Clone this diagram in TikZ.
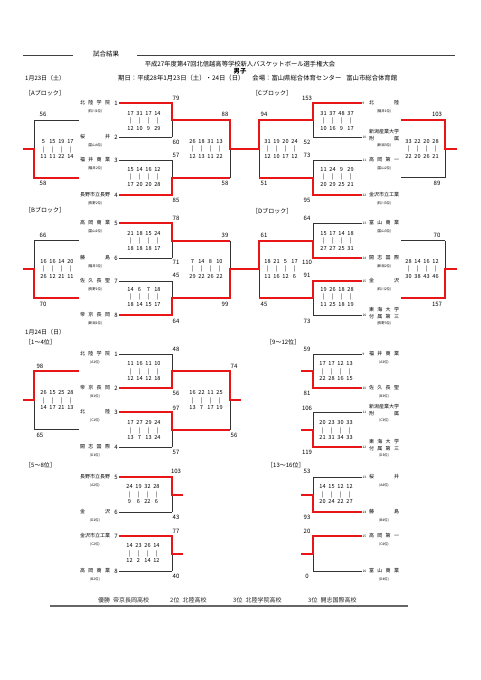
\documentclass[tikz,border=0pt]{standalone}
\usepackage{fontspec}
\setmainfont{Noto Sans CJK JP}
\usetikzlibrary{calc}

\definecolor{winred}{RGB}{232,22,22}

% team names are spread over a fixed width
\newcommand{\tname}[1]{\makebox[30pt][s]{#1}}
% quarter scores: top row, bars, bottom row
\newcommand{\qrow}[4]{\makebox[9pt]{#1}\makebox[9pt]{#2}\makebox[9pt]{#3}\makebox[9pt]{#4}}
\newcommand{\qtab}[8]{\qrow{#1}{#2}{#3}{#4}\\\qrow{|}{|}{|}{|}\\\qrow{#5}{#6}{#7}{#8}}

% team with name on the left of the bracket
\newcommand{\teamL}[5]{%
  \node[teamname] (#1) at (95,#2) {#4};
  \node[teamno, anchor=east] (#1n) at (118,#2) {#3};
  \node[teamsub] (#1s) at (95,{#2+8}) {#5};
}
% team with name on the right of the bracket
\newcommand{\teamR}[5]{%
  \node[teamnosmall, anchor=west] (#1n) at (362.5,#2) {#3};
  \node[teamname] (#1) at (384,#2) {#4};
  \node[teamsub] (#1s) at (384,{#2+8}) {#5};
}
\newcommand{\teamRR}[5]{%
  \node[teamnosmall, anchor=west] (#1n) at (362.5,#2) {#3};
  \node[teamname] (#1) at (384,{#2-1.5}) {#4};
  \node[teamsub] (#1s) at (384,{#2+8.5}) {#5};
}
% one match: name, x start, x vertical, x out, y top, y bottom, top style, bottom style, winner (t/b)
\newcommand{\bracket}[9]{%
  \coordinate (#1-t) at (#2,#5);
  \coordinate (#1-tv) at (#3,#5);
  \coordinate (#1-b) at (#2,#6);
  \coordinate (#1-bv) at (#3,#6);
  \coordinate (#1-m) at (#3,{(#5+#6)/2});
  \coordinate (#1-o) at (#4,{(#5+#6)/2});
  \draw[lose] (#1-tv) -- (#1-bv);
  \draw[#7] (#1-t) -- (#1-tv);
  \draw[#8] (#1-b) -- (#1-bv);
  \draw[win] (#1-#9) -- (#1-#9v) -- (#1-m) -- (#1-o);
}

\begin{document}
\begin{tikzpicture}[x=1pt, y=-1pt,
        lose/.style={draw=black!80, line width=0.8pt},
        win/.style={draw=winred, line width=2pt},
        rule/.style={draw=black!75, line width=0.7pt},
        teamname/.style={font=\fontsize{5}{7}\selectfont, inner sep=0pt, align=center},
        teamno/.style={font=\fontsize{6}{7}\selectfont, inner sep=0pt},
        teamnosmall/.style={font=\fontsize{3.2}{4}\selectfont, inner sep=0pt},
        teamsub/.style={font=\fontsize{3.4}{4}\selectfont, inner sep=0pt},
        total/.style={font=\fontsize{6}{7}\selectfont, inner sep=0pt},
        quarters/.style={font=\fontsize{5.6}{7.8}\selectfont, inner sep=0pt, align=center},
        blockhead/.style={font=\fontsize{6}{7}\selectfont, inner sep=0pt, anchor=west},
        headline/.style={font=\fontsize{6.3}{7}\selectfont, inner sep=0pt},
        footer/.style={font=\fontsize{6}{7}\selectfont, inner sep=0pt, anchor=west, text=black!85}
    ]
    \useasboundingbox[fill=white] (0,0) rectangle (481,680);

    % heading
    \node[headline, font=\fontsize{6.5}{7}\selectfont] (kekka) at (106,54) {試合結果};
    \draw[rule] (23,55) -- (73,55);
    \draw[rule] (137,55) -- (455,55);
    \node[headline] (title) at (240,64) {平成27年度第47回北信越高等学校新人バスケットボール選手権大会};
    \node[headline, font=\fontsize{6.3}{7}\selectfont\bfseries] (danshi) at (240,71.5) {男子};
    \node[blockhead] (day1) at (25,78.5) {1月23日（土）};
    \node[headline, anchor=west, font=\fontsize{6.35}{7}\selectfont] (kijitsu) at (118,78.5) {期日：平成28年1月23日（土）・24日（日）\hspace{8pt}会場：富山県総合体育センター\hspace{5pt}富山市総合体育館};

    % A block
    \node[blockhead] (hA) at (25,93) {［Aブロック］};
    \teamL{tA1}{103}{1}{\tname{北\hfil 陸\hfil 学\hfil 院}}{(石川1位)}
    \teamL{tA2}{137}{2}{\tname{桜\hfil 井}}{(富山4位)}
    \teamL{tA3}{160}{3}{\tname{福\hfil 井\hfil 商\hfil 業}}{(福井2位)}
    \teamL{tA4}{195}{4}{\tname{長野市立長野}}{(長野2位)}
    \bracket{mA1}{119}{172}{230}{103}{137}{win}{lose}{t}
    \bracket{mA2}{119}{172}{230}{160}{195}{lose}{win}{b}
    \bracket{mA3}{79}{34}{23}{120}{177.5}{lose}{win}{b}
    \bracket{mA4}{172}{230}{241}{120}{177.5}{win}{win}{t}
    \node[quarters] (qA1) at (144,121) {\qtab{17}{31}{17}{14}{12}{10}{9}{29}};
    \node[quarters] (qA2) at (144,177) {\qtab{15}{14}{16}{12}{17}{20}{20}{28}};
    \node[quarters] (qA3) at (57,149) {\qtab{5}{15}{19}{17}{11}{11}{22}{14}};
    \node[quarters] (qA4) at (206,149) {\qtab{26}{18}{31}{13}{12}{13}{11}{22}};
    \node[total] (pA1) at (176,98) {79};
    \node[total] (pA2) at (176,142) {60};
    \node[total] (pA3) at (176,155) {57};
    \node[total] (pA4) at (176,200) {85};
    \node[total] (pA5) at (43,114) {56};
    \node[total] (pA6) at (43,183) {58};
    \node[total] (pA7) at (225,114) {88};
    \node[total] (pA8) at (225,183) {58};

    % B block
    \node[blockhead] (hB) at (25,210) {［Bブロック］};
    \teamL{tB5}{223}{5}{\tname{高\hfil 岡\hfil 商\hfil 業}}{(富山1位)}
    \teamL{tB6}{258}{6}{\tname{藤\hfil 島}}{(福井3位)}
    \teamL{tB7}{281}{7}{\tname{佐\hfil 久\hfil 長\hfil 聖}}{(長野1位)}
    \teamL{tB8}{315}{8}{\tname{帝\hfil 京\hfil 長\hfil 岡}}{(新潟1位)}
    \bracket{mB1}{119}{172}{230}{223}{258}{win}{lose}{t}
    \bracket{mB2}{119}{172}{230}{281}{315}{lose}{win}{b}
    \bracket{mB3}{79}{34}{23}{240.5}{298}{lose}{win}{b}
    \bracket{mB4}{172}{230}{241}{240.5}{298}{win}{win}{b}
    \node[quarters] (qB1) at (144,241) {\qtab{21}{18}{15}{24}{18}{18}{18}{17}};
    \node[quarters] (qB2) at (144,297) {\qtab{14}{6}{7}{18}{18}{14}{15}{17}};
    \node[quarters] (qB3) at (57,269) {\qtab{16}{16}{14}{20}{26}{12}{21}{11}};
    \node[quarters] (qB4) at (206,269) {\qtab{7}{14}{8}{10}{29}{22}{26}{22}};
    \node[total] (pB1) at (176,218) {78};
    \node[total] (pB2) at (176,262) {71};
    \node[total] (pB3) at (176,275) {45};
    \node[total] (pB4) at (176,321) {64};
    \node[total] (pB5) at (43,235) {66};
    \node[total] (pB6) at (43,304) {70};
    \node[total] (pB7) at (225,235) {39};
    \node[total] (pB8) at (225,304) {99};

    % C block
    \node[blockhead] (hC) at (252,93) {［Cブロック］};
    \teamR{tC9}{103}{9}{\tname{北\hfil 陸}}{(福井1位)}
    \teamRR{tC10}{137}{10}{\tname{新潟産業大学}\\\tname{附\hfil 属}}{(新潟3位)}
    \teamR{tC11}{160}{11}{\tname{高\hfil 岡\hfil 第\hfil 一}}{(富山2位)}
    \teamR{tC12}{195}{12}{\tname{金沢市立工業}}{(石川3位)}
    \bracket{mC1}{362}{313}{259}{103}{137}{win}{lose}{t}
    \bracket{mC2}{362}{313}{259}{160}{195}{lose}{win}{b}
    \bracket{mC3}{313}{259}{240}{120}{177.5}{win}{win}{t}
    \bracket{mC4}{401}{445}{457}{120}{177.5}{win}{lose}{t}
    \node[quarters] (qC1) at (337,121) {\qtab{31}{37}{48}{37}{10}{16}{9}{17}};
    \node[quarters] (qC2) at (337,177) {\qtab{11}{24}{9}{29}{20}{29}{25}{21}};
    \node[quarters] (qC3) at (281,149) {\qtab{31}{19}{20}{24}{12}{10}{17}{12}};
    \node[quarters] (qC4) at (422,149) {\qtab{33}{22}{20}{28}{22}{20}{26}{21}};
    \node[total] (pC1) at (307,98) {153};
    \node[total] (pC2) at (307,142) {52};
    \node[total] (pC3) at (307,155) {73};
    \node[total] (pC4) at (307,200) {95};
    \node[total] (pC5) at (264,114) {94};
    \node[total] (pC6) at (264,183) {51};
    \node[total] (pC7) at (437,114) {103};
    \node[total] (pC8) at (437,183) {89};

    % D block
    \node[blockhead] (hD) at (252,211) {［Dブロック］};
    \teamR{tD13}{223}{13}{\tname{富\hfil 山\hfil 商\hfil 業}}{(富山3位)}
    \teamR{tD14}{258}{14}{\tname{開\hfil 志\hfil 国\hfil 際}}{(新潟2位)}
    \teamR{tD15}{281}{15}{\tname{金\hfil 沢}}{(石川2位)}
    \teamRR{tD16}{315}{16}{\tname{東\hfil 海\hfil 大\hfil 学}\\\tname{付\hfil 属\hfil 第\hfil 三}}{(長野3位)}
    \bracket{mD1}{362}{313}{259}{223}{258}{lose}{win}{b}
    \bracket{mD2}{362}{313}{259}{281}{315}{win}{lose}{t}
    \bracket{mD3}{313}{259}{240}{240.5}{298}{win}{win}{t}
    \bracket{mD4}{401}{445}{457}{240.5}{298}{lose}{win}{b}
    \node[quarters] (qD1) at (337,241) {\qtab{15}{17}{14}{18}{27}{27}{25}{31}};
    \node[quarters] (qD2) at (337,297) {\qtab{19}{26}{18}{28}{11}{25}{18}{19}};
    \node[quarters] (qD3) at (281,269) {\qtab{18}{21}{5}{17}{11}{16}{12}{6}};
    \node[quarters] (qD4) at (422,269) {\qtab{28}{14}{16}{12}{30}{38}{43}{46}};
    \node[total] (pD1) at (307,218) {64};
    \node[total] (pD2) at (307,262) {110};
    \node[total] (pD3) at (307,275) {91};
    \node[total] (pD4) at (307,321) {73};
    \node[total] (pD5) at (264,235) {61};
    \node[total] (pD6) at (264,304) {45};
    \node[total] (pD7) at (437,235) {70};
    \node[total] (pD8) at (437,304) {157};

    % second day
    \node[blockhead] (day2) at (25,332) {1月24日（日）};

    % 1st to 4th
    \node[blockhead] (hF) at (25,342) {［1〜4位］};
    \teamL{tF1}{354}{1}{\tname{北\hfil 陸\hfil 学\hfil 院}}{(A1位)}
    \teamL{tF2}{388}{2}{\tname{帝\hfil 京\hfil 長\hfil 岡}}{(B1位)}
    \teamL{tF3}{412}{3}{\tname{北\hfil 陸}}{(C1位)}
    \teamL{tF4}{447}{4}{\tname{開\hfil 志\hfil 国\hfil 際}}{(D1位)}
    \bracket{mF1}{119}{172}{230}{354}{388}{lose}{win}{b}
    \bracket{mF2}{119}{172}{230}{412}{447}{win}{lose}{t}
    \bracket{mF3}{79}{34}{23}{371}{429.5}{win}{lose}{t}
    \bracket{mF4}{172}{230}{241}{371}{429.5}{win}{win}{t}
    \node[quarters] (qF1) at (144,371) {\qtab{11}{16}{11}{10}{12}{14}{12}{18}};
    \node[quarters] (qF2) at (144,430) {\qtab{17}{27}{29}{24}{13}{7}{13}{24}};
    \node[quarters] (qF3) at (57,400) {\qtab{26}{15}{25}{28}{14}{17}{21}{13}};
    \node[quarters] (qF4) at (206,400) {\qtab{16}{22}{11}{25}{13}{7}{17}{19}};
    \node[total] (pF1) at (176,349) {48};
    \node[total] (pF2) at (176,393) {56};
    \node[total] (pF3) at (176,408) {97};
    \node[total] (pF4) at (176,452) {57};
    \node[total] (pF5) at (40,366) {98};
    \node[total] (pF6) at (40,435) {65};
    \node[total] (pF7) at (234,366) {74};
    \node[total] (pF8) at (234,435) {56};

    % 9th to 12th
    \node[blockhead] (hG) at (266,342) {［9〜12位］};
    \teamR{tG9}{354}{9}{\tname{福\hfil 井\hfil 商\hfil 業}}{(A3位)}
    \teamR{tG10}{388}{10}{\tname{佐\hfil 久\hfil 長\hfil 聖}}{(B3位)}
    \teamRR{tG11}{412}{11}{\tname{新潟産業大学}\\\tname{附\hfil 属}}{(C3位)}
    \teamRR{tG12}{447}{12}{\tname{東\hfil 海\hfil 大\hfil 学}\\\tname{付\hfil 属\hfil 第\hfil 三}}{(D3位)}
    \bracket{mG1}{362}{313}{301}{354}{388}{lose}{win}{b}
    \bracket{mG2}{362}{313}{301}{412}{447}{lose}{win}{b}
    \node[quarters] (qG1) at (336,371) {\qtab{17}{17}{12}{13}{22}{28}{16}{15}};
    \node[quarters] (qG2) at (336,430) {\qtab{20}{23}{30}{33}{21}{31}{34}{33}};
    \node[total] (pG1) at (307,349) {59};
    \node[total] (pG2) at (307,393) {81};
    \node[total] (pG3) at (307,408) {106};
    \node[total] (pG4) at (307,452) {119};

    % 5th to 8th
    \node[blockhead] (hE) at (25,465) {［5〜8位］};
    \teamL{tE5}{477}{5}{\tname{長野市立長野}}{(A2位)}
    \teamL{tE6}{512}{6}{\tname{金\hfil 沢}}{(D2位)}
    \teamL{tE7}{536}{7}{\tname{金沢市立工業}}{(C2位)}
    \teamL{tE8}{571}{8}{\tname{高\hfil 岡\hfil 商\hfil 業}}{(B2位)}
    \bracket{mE1}{119}{172}{183}{477}{512}{win}{lose}{t}
    \bracket{mE2}{119}{172}{183}{536}{571}{win}{lose}{t}
    \node[quarters] (qE1) at (143,494) {\qtab{24}{19}{32}{28}{9}{6}{22}{6}};
    \node[quarters] (qE2) at (143,553) {\qtab{14}{23}{26}{14}{12}{2}{14}{12}};
    \node[total] (pE1) at (176,471) {103};
    \node[total] (pE2) at (176,517) {43};
    \node[total] (pE3) at (176,531) {77};
    \node[total] (pE4) at (176,576) {40};

    % 13th to 16th
    \node[blockhead] (hH) at (267,465) {［13〜16位］};
    \teamR{tH13}{477}{13}{\tname{桜\hfil 井}}{(A4位)}
    \teamR{tH14}{512}{14}{\tname{藤\hfil 島}}{(B4位)}
    \teamR{tH15}{536}{15}{\tname{高\hfil 岡\hfil 第\hfil 一}}{(C4位)}
    \teamR{tH16}{571}{16}{\tname{富\hfil 山\hfil 商\hfil 業}}{(D4位)}
    \bracket{mH1}{362}{313}{301}{477}{512}{lose}{win}{b}
    \bracket{mH2}{362}{313}{301}{536}{571}{win}{lose}{t}
    \node[quarters] (qH1) at (336,494) {\qtab{14}{15}{12}{12}{20}{24}{22}{27}};
    \node[total] (pH1) at (307,471) {53};
    \node[total] (pH2) at (307,517) {93};
    \node[total] (pH3) at (307,531) {20};
    \node[total] (pH4) at (307,576) {0};

    % final standing
    \node[footer] (rank1) at (98,600) {優勝\enspace 帝京長岡高校};
    \node[footer] (rank2) at (170,600) {2位\enspace 北陸高校};
    \node[footer] (rank3) at (233,600) {3位\enspace 北陸学院高校};
    \node[footer] (rank4) at (308,600) {3位\enspace 開志国際高校};
    \draw[draw=black!60, line width=1.8pt] (50,606) -- (408,606);
\end{tikzpicture}
\end{document}
